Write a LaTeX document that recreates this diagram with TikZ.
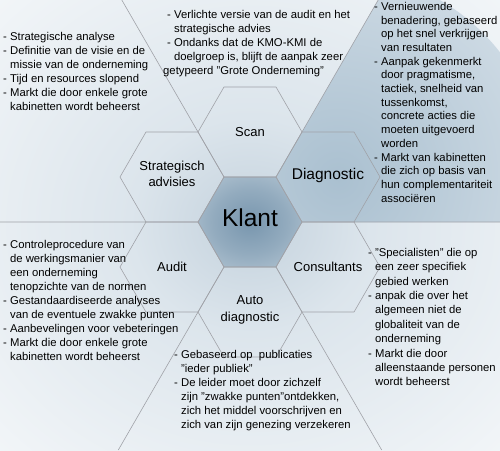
\documentclass[tikz,border=0pt]{standalone}
\usepackage{fontspec}
\setmainfont{Liberation Sans}
\usepackage{tikz}

\definecolor{hexline}{RGB}{160,162,168}
\definecolor{bgcenter}{RGB}{196,210,221}
\definecolor{bgmid}{RGB}{220,229,236}
\definecolor{klantin}{RGB}{120,150,174}
\definecolor{klantout}{RGB}{210,221,229}
\definecolor{diagin}{RGB}{170,192,208}
\definecolor{diagout}{RGB}{238,242,246}

\pgfdeclareradialshading{bgglow}{\pgfpoint{0bp}{0bp}}{color(0bp)=(bgcenter); color(12bp)=(bgmid); color(50bp)=(white)}
\pgfdeclareradialshading{klantglow}{\pgfpoint{0bp}{0bp}}{color(0bp)=(klantin); color(18bp)=(klantin!70!klantout); color(50bp)=(klantout)}
\pgfdeclareradialshading{diagglow}{\pgfpoint{0bp}{0bp}}{color(0bp)=(diagin); color(50bp)=(diagout)}

\newcommand{\indt}{\hphantom{- }}

\tikzset{
  hexcell/.style={draw=hexline, line width=0.6pt, line join=miter},
  celltext/.style={inner sep=0pt, align=center, font=\fontsize{13}{16.5}\selectfont},
  spoke/.style={draw=hexline, line width=0.6pt},
  info/.style={anchor=north west, inner sep=0pt, align=left,
    font=\fontsize{11.3}{14}\selectfont},
}

\begin{document}
\begin{tikzpicture}[x=1pt, y=-1pt]
%%%%% Background %%%%%
\useasboundingbox (0,0) rectangle (500,450);
\shade[shading=bgglow] (0,0) rectangle (500,450);
\begin{scope}
\clip (378.2,0) -- (500,0) -- (500,222) -- (302,222) -- (276,177) -- (302,132) -- cycle;
\shade[shading=diagglow] (338,178) circle (205pt);
\end{scope}
%%%%% Cells %%%%%
\coordinate (klant) at (250,222);
\coordinate (scan) at (250,132);
\coordinate (diag) at (328,177);
\coordinate (cons) at (328,267);
\coordinate (auto) at (250,312);
\coordinate (audit) at (172,267);
\coordinate (strat) at (172,177);
\foreach \h in {klant,scan,diag,cons,auto,audit,strat}{
  \foreach \a in {0,60,...,300}{
    \path (\h) ++(\a:52pt) coordinate (\h-\a);
  }
}
\shade[shading=klantglow] (klant-0) -- (klant-60) -- (klant-120) -- (klant-180) -- (klant-240) -- (klant-300) -- cycle;
\foreach \h in {klant,scan,diag,cons,auto,audit,strat}{
  \draw[hexcell] (\h-0) -- (\h-60) -- (\h-120) -- (\h-180) -- (\h-240) -- (\h-300) -- cycle;
}
\node[celltext, font=\fontsize{24.5}{28}\selectfont] (klantlabel) at (klant) {\raisebox{4pt}[\height][\depth]{Klant}};
\node[celltext] (scanlabel) at (scan) {Scan};
\node[celltext, font=\fontsize{15.5}{18}\selectfont] (diaglabel) at ([yshift=2pt]diag) {Diagnostic};
\node[celltext] (conslabel) at (cons) {Consultants};
\node[celltext] (autolabel) at ([yshift=2pt]auto) {Auto\\diagnostic};
\node[celltext] (auditlabel) at (audit) {Audit};
\node[celltext] (stratlabel) at ([yshift=3pt]strat) {Strategisch\\advisies};
%%%%% Spokes %%%%%
\coordinate (topleft) at (121.8,0);
\coordinate (topright) at (378.2,0);
\coordinate (midleft) at (0,222);
\coordinate (midright) at (500,222);
\coordinate (botleft) at (118.3,450);
\coordinate (botright) at (381.7,450);
\draw[spoke] (strat-60) -- (topleft);
\draw[spoke] (diag-120) -- (topright);
\draw[spoke] (strat-240) -- (midleft);
\draw[spoke] (cons-60) -- (midright);
\draw[spoke] (audit-300) -- (botleft);
\draw[spoke] (cons-240) -- (botright);
%%%%% Texts %%%%%
\node[info] (strattxt) at (3,32) {- Strategische analyse\\- Definitie van de visie en de\\\indt missie van de onderneming\\- Tijd en resources slopend\\- Markt die door enkele grote\\\indt kabinetten wordt beheerst};
\node[info] (scantxt) at (167,10) {- Verlichte versie van de audit en het\\\indt strategische advies\\- Ondanks dat de KMO-KMI de\\\indt doelgroep is, blijft de aanpak zeer\\\hspace*{-4pt}getypeerd "Grote Onderneming"};
\node[info, font=\fontsize{11.3}{13.7}\selectfont] (diagtxt) at (374,2) {- Vernieuwende\\\indt benadering, gebaseerd\\\indt op het snel verkrijgen\\\indt van resultaten\\- Aanpak gekenmerkt\\\indt door pragmatisme,\\\indt tactiek, snelheid van\\\indt tussenkomst,\\\indt concrete acties die\\\indt moeten uitgevoerd\\\indt worden\\- Markt van kabinetten\\\indt die zich op basis van\\\indt hun complementariteit\\\indt associëren};
\node[info] (audittxt) at (3,240) {- Controleprocedure van\\\indt de werkingsmanier van\\\indt een onderneming\\\indt tenopzichte van de normen\\- Gestandaardiseerde analyses\\\indt van de eventuele zwakke punten\\- Aanbevelingen voor vebeteringen\\- Markt die door enkele grote\\\indt kabinetten wordt beheerst};
\node[info, font=\fontsize{11.3}{14.4}\selectfont] (constxt) at (368,248) {- "Specialisten" die op\\\indt een zeer specifiek\\\indt gebied werken\\- anpak die over het\\\indt algemeen niet de\\\indt globaliteit van de\\\indt onderneming\\- Markt die door\\\indt alleenstaande personen\\\indt wordt beheerst};
\node[info] (autotxt) at (174,350) {- Gebaseerd op\ \ publicaties\\\indt "ieder publiek"\\- De leider moet door zichzelf\\\indt zijn "zwakke punten"ontdekken,\\\indt zich het middel voorschrijven en\\\indt zich van zijn genezing verzekeren};
\end{tikzpicture}
\end{document}
